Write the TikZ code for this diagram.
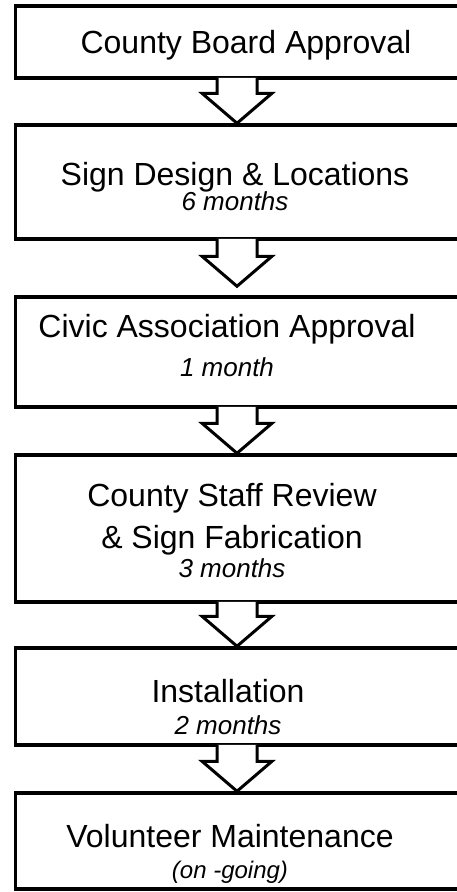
\documentclass[tikz,border=0pt]{standalone}
\usepackage{fontspec}
\setmainfont{Liberation Sans}
\usetikzlibrary{calc}
\newcommand{\dur}[1]{{\fontsize{26}{26}\selectfont\itshape #1}}

\begin{document}
\begin{tikzpicture}
      [x=1pt,y=-1pt
      ,box/.style={draw,line width=3.5pt,minimum width=480pt,inner sep=0pt,anchor=west}
      ,txt/.style={align=center,inner sep=0pt,font=\fontsize{32}{32}\selectfont}
      ,arr/.style={draw,fill=white,line width=3pt}
      ]
        \path[use as bounding box,clip] (0,0) rectangle (457,892);
        \coordinate (mid) at (237,0);

        \node[box,minimum height=72pt]  (b1) at (13.5,42)    {};
        \node[box,minimum height=114pt] (b2) at (13.5,182)   {};
        \node[box,minimum height=110pt] (b3) at (13.5,352)   {};
        \node[box,minimum height=147pt] (b4) at (13.5,528.5) {};
        \node[box,minimum height=97pt]  (b5) at (13.5,696.5) {};
        \node[box,minimum height=96pt]  (b6) at (13.5,841)   {};

        \node[txt] (t1) at ($(b1 -| mid)+(9,3)$)     {County Board Approval};
        \node[txt] (t2) at ($(b2 -| mid)+(-2,4.5)$)  {Sign Design \& Locations\\[-6.5pt]\dur{6 months}};
        \node[txt] (t3) at ($(b3 -| mid)+(-10,-6.5)$) {Civic Association Approval\\[7.5pt]\dur{1 month}};
        \node[txt] (t4) at ($(b4 -| mid)+(-5,2)$)    {County Staff Review\\[10pt]\& Sign Fabrication\\[-2.5pt]\dur{3 months}};
        \node[txt] (t5) at ($(b5 -| mid)+(-9,10.5)$) {Installation\\[0.5pt]\dur{2 months}};
        \node[txt] (t6) at ($(b6 -| mid)+(-7,13)$)   {Volunteer Maintenance\\[-0.5pt]{\fontsize{24}{24}\selectfont\itshape (on -going)}};

        \foreach \a/\b/\g in {b1/b2/0,b2/b3/9,b3/b4/0,b4/b5/0,b5/b6/0}{
            \filldraw[arr] ($(\a.south -| mid)+(-20,-2)$) |- ($(\b.north -| mid)+(-35,-30-\g)$)
                -- ($(\b.north -| mid)+(0,-\g)$) -- ($(\b.north -| mid)+(35,-30-\g)$) -| ($(\a.south -| mid)+(20,-2)$);
        }
\end{tikzpicture}
\end{document}
